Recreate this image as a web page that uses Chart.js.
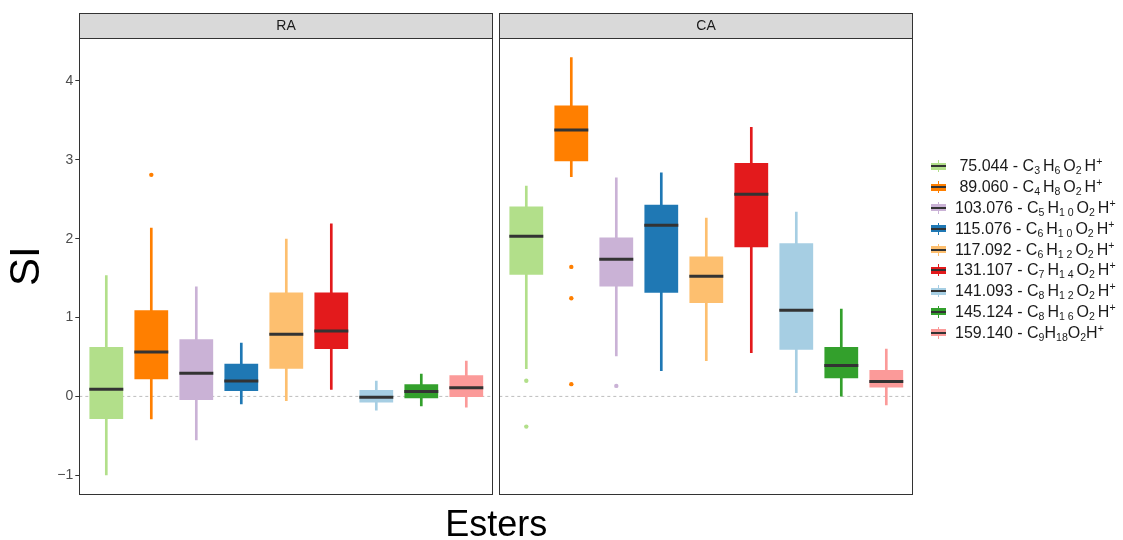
<!DOCTYPE html>
<html>
<head>
<meta charset="utf-8">
<script src="https://cdn.jsdelivr.net/npm/chart.js@4.4.0/dist/chart.umd.min.js"></script>
<style>
  html, body { margin: 0; padding: 0; background: #fff; }
  #wrap { position: relative; width: 1123px; height: 540px; font-family: "Liberation Sans", Arial, sans-serif; }
  #chart { position: absolute; left: 0; top: 0; }
  #legend { position: absolute; left: 931px; top: 156px; }
  .row { display: flex; align-items: center; height: 20.8px; font-size: 16px; line-height: 1; color: #1a1a1a; white-space: pre; }
  .key { position: relative; width: 15px; height: 12px; margin-right: 9px; flex: none; }
  .key .w { position: absolute; left: 6.75px; width: 1.5px; top: 0; height: 12px; }
  .key .b { position: absolute; left: 0; top: 2.5px; width: 15px; height: 7px; }
  .key .m { position: absolute; left: 0; top: 5px; width: 15px; height: 2px; background: #333; }
  sub { font-size: 0.66em; vertical-align: -0.3em; line-height: 0; }
  sup { font-size: 0.66em; vertical-align: 0.6em; line-height: 0; }
</style>
</head>
<body>
<div id="wrap">
  <canvas id="chart" width="1123" height="540"></canvas>
  <div id="legend"></div>
</div>
<script>
// esters (legend order)
const esters = [
  " 75.044 - C<sub>3 </sub>H<sub>6 </sub>O<sub>2 </sub>H<sup>+</sup>",
  " 89.060 - C<sub>4 </sub>H<sub>8 </sub>O<sub>2 </sub>H<sup>+</sup>",
  "103.076 - C<sub>5 </sub>H<sub>1 0 </sub>O<sub>2 </sub>H<sup>+</sup>",
  "115.076 - C<sub>6 </sub>H<sub>1 0 </sub>O<sub>2 </sub>H<sup>+</sup>",
  "117.092 - C<sub>6 </sub>H<sub>1 2 </sub>O<sub>2 </sub>H<sup>+</sup>",
  "131.107 - C<sub>7 </sub>H<sub>1 4 </sub>O<sub>2 </sub>H<sup>+</sup>",
  "141.093 - C<sub>8 </sub>H<sub>1 2 </sub>O<sub>2 </sub>H<sup>+</sup>",
  "145.124 - C<sub>8 </sub>H<sub>1 6 </sub>O<sub>2 </sub>H<sup>+</sup>",
  "159.140 - C<sub>9</sub>H<sub>18</sub>O<sub>2</sub>H<sup>+</sup>"
];
const colors = ["#B2DF8A", "#FF7F00", "#CAB2D6", "#1F78B4", "#FDBF6F",
                "#E31A1C", "#A6CEE3", "#33A02C", "#FB9A99"];
const panels = ["RA", "CA"];

// RA boxplot stats
const raLow  = [-0.995, -0.286, -0.553, -0.094, -0.055, 0.090, -0.173, -0.120, -0.138];
const raQ1   = [-0.286, 0.216, -0.046, 0.068, 0.352, 0.601, -0.077, -0.024, -0.007];
const raMed  = [0.090, 0.562, 0.295, 0.195, 0.789, 0.828, -0.011, 0.063, 0.111];
const raQ3   = [0.627, 1.091, 0.724, 0.413, 1.318, 1.318, 0.081, 0.155, 0.269];
const raHigh = [1.532, 2.135, 1.388, 0.675, 1.996, 2.188, 0.195, 0.282, 0.448];
const raOut  = [[], [2.809], [], [], [], [], [], [], []];

// CA boxplot stats
const caLow  = [0.352, 2.787, 0.513, 0.326, 0.452, 0.553, 0.046, 0.002, -0.107];
const caQ1   = [1.541, 2.980, 1.392, 1.314, 1.183, 1.891, 0.592, 0.229, 0.112];
const caMed  = [2.031, 3.378, 1.738, 2.170, 1.524, 2.564, 1.091, 0.391, 0.190];
const caQ3   = [2.407, 3.688, 2.013, 2.429, 1.773, 2.958, 1.943, 0.627, 0.335];
const caHigh = [2.667, 4.296, 2.770, 2.835, 2.262, 3.412, 2.337, 1.108, 0.601];
const caOut  = [[0.199, -0.383], [1.642, 1.245, 0.155], [0.133], [], [], [], [], [], []];

const yTicks = [-1, 0, 1, 2, 3, 4];

// x layout: each facet spans n + 2*0.6 units, facets separated by a small gap
const n = esters.length;
const pad = 0.6;
const facetSpan = n - 1 + 2 * pad;
const gap = 0.1333;
const facetStart = [1 - pad, 1 - pad + facetSpan + gap];
const positions = facetStart.map(s => esters.map((_, i) => s + pad + i));

const stats = [
  { low: raLow, q1: raQ1, med: raMed, q3: raQ3, high: raHigh, out: raOut },
  { low: caLow, q1: caQ1, med: caMed, q3: caQ3, high: caHigh, out: caOut }
];

const datasets = [];
stats.forEach((s, p) => {
  const xs = positions[p];
  datasets.push({
    type: "bar", label: panels[p] + " whisker", order: 3, grouped: false,
    data: xs.map((x, i) => ({ x, y: [s.low[i], s.high[i]] })),
    backgroundColor: colors, barThickness: 2
  });
  datasets.push({
    type: "bar", label: panels[p] + " box", order: 2, grouped: false,
    data: xs.map((x, i) => ({ x, y: [s.q1[i], s.q3[i]] })),
    backgroundColor: colors, categoryPercentage: 1, barPercentage: 0.75
  });
  datasets.push({
    type: "line", label: panels[p] + " median", order: 1, showLine: false,
    data: xs.map((x, i) => ({ x, y: s.med[i] })),
    pointStyle: "line", pointRadius: 17, pointHoverRadius: 17,
    pointBorderWidth: 3, pointBorderColor: "#333333"
  });
  const outPts = [], outCols = [];
  s.out.forEach((vals, i) => vals.forEach(v => { outPts.push({ x: xs[i], y: v }); outCols.push(colors[i]); }));
  datasets.push({
    type: "line", label: panels[p] + " outliers", order: 0, showLine: false,
    data: outPts, pointRadius: 2.2, pointHoverRadius: 2.2, pointBorderWidth: 0,
    pointBackgroundColor: outCols, pointBorderColor: outCols
  });
});

// facet frames, strips and zero reference line
const facetPlugin = {
  id: "facets",
  beforeDatasetsDraw(chart) {
    const { ctx, scales: { x, y } } = chart;
    const y0 = y.getPixelForValue(0);
    ctx.save();
    ctx.strokeStyle = "#bdbdbd";
    ctx.lineWidth = 1;
    ctx.setLineDash([3, 3]);
    facetStart.forEach(s => {
      ctx.beginPath();
      ctx.moveTo(x.getPixelForValue(s), y0);
      ctx.lineTo(x.getPixelForValue(s + facetSpan), y0);
      ctx.stroke();
    });
    ctx.restore();
  },
  afterDatasetsDraw(chart) {
    const { ctx, chartArea, scales: { x } } = chart;
    const stripH = 24.2;
    ctx.save();
    ctx.lineWidth = 1;
    ctx.strokeStyle = "#333333";
    facetStart.forEach((s, p) => {
      const l = Math.round(x.getPixelForValue(s)) + 0.5;
      const r = Math.round(x.getPixelForValue(s + facetSpan)) - 0.5;
      const t = Math.round(chartArea.top) + 0.5;
      const b = Math.round(chartArea.bottom) - 0.5;
      const st = Math.round(chartArea.top - stripH) + 0.5;
      ctx.fillStyle = "#d9d9d9";
      ctx.fillRect(l, st, r - l, t - st);
      ctx.strokeRect(l, st, r - l, t - st);
      ctx.strokeRect(l, t, r - l, b - t);
      ctx.fillStyle = "#1a1a1a";
      ctx.font = "14px 'Liberation Sans', Arial, sans-serif";
      ctx.textAlign = "center";
      ctx.textBaseline = "middle";
      ctx.fillText(panels[p], (l + r) / 2, (st + t) / 2 + 0.5);
    });
    ctx.restore();
  }
};

Chart.defaults.font.family = "'Liberation Sans', Arial, sans-serif";

new Chart(document.getElementById("chart"), {
  type: "bar",
  data: { datasets },
  plugins: [facetPlugin],
  options: {
    responsive: false,
    animation: false,
    events: [],
    layout: { padding: { left: 0, top: 37.5, right: 209.7, bottom: 0 } },
    plugins: { legend: { display: false }, tooltip: { enabled: false } },
    scales: {
      x: {
        type: "linear",
        offset: false,
        min: facetStart[0],
        max: facetStart[1] + facetSpan,
        grid: { display: false },
        border: { display: false },
        ticks: { display: false },
        title: {
          display: true, text: "Esters", color: "#000",
          font: { size: 36, lineHeight: 0.8 }, padding: 0
        },
        afterFit(scale) { scale.height = 45; }
      },
      y: {
        min: -1.25,
        max: 4.55,
        afterBuildTicks(scale) { scale.ticks = yTicks.map(v => ({ value: v })); },
        grid: { drawOnChartArea: false, drawTicks: true, tickLength: 4, color: "#333333" },
        border: { display: false },
        ticks: {
          padding: 2, color: "#4d4d4d", font: { size: 14 },
          callback: v => (v < 0 ? "\u2212" + Math.abs(v) : String(v))
        },
        title: {
          display: true, text: "SI", color: "#000",
          font: { size: 42, lineHeight: 1 }, padding: { top: 6.7, bottom: 0 }
        },
        afterFit(scale) { scale.width = 79.3; }
      }
    }
  }
});

// legend
const legend = document.getElementById("legend");
esters.forEach((label, i) => {
  const row = document.createElement("div");
  row.className = "row";
  row.innerHTML =
    '<span class="key"><span class="w" style="background:' + colors[i] + '"></span>' +
    '<span class="b" style="background:' + colors[i] + '"></span><span class="m"></span></span>' +
    '<span>' + label + '</span>';
  legend.appendChild(row);
});
</script>
</body>
</html>
